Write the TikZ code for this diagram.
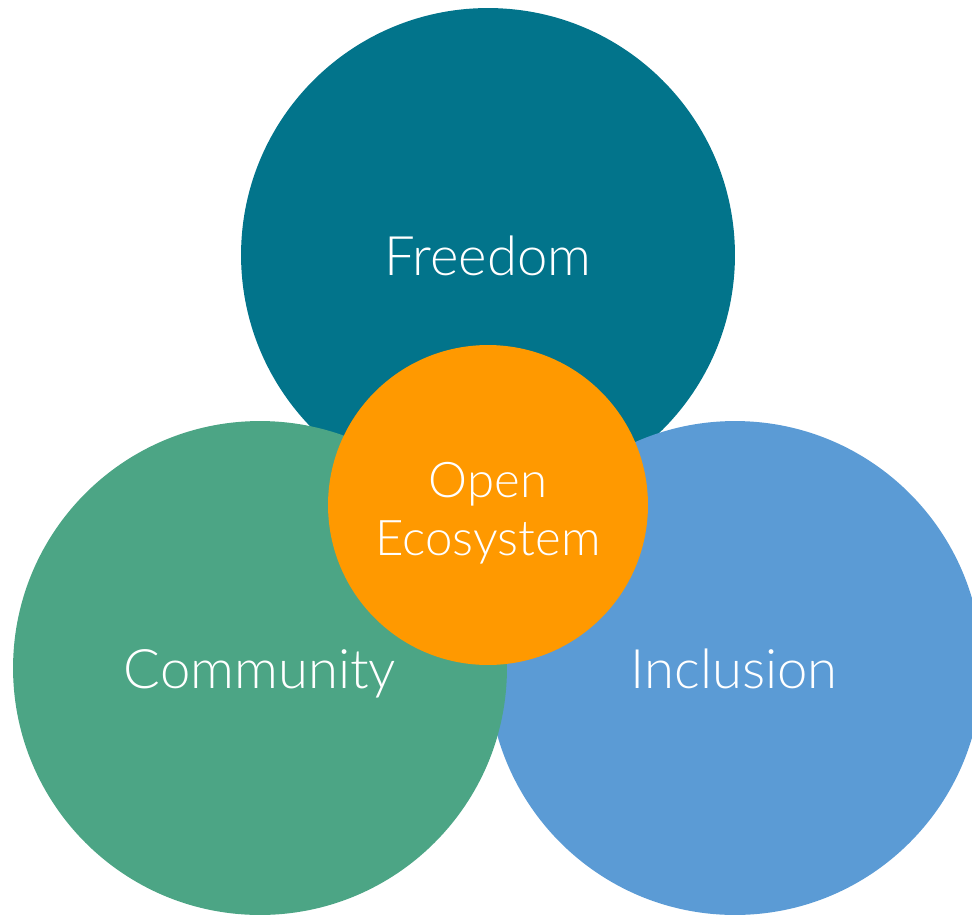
\documentclass[tikz,border=0pt]{standalone}
\usepackage{fontspec}
\IfFontExistsTF{Lato Light}{\setmainfont{Lato Light}}{\setmainfont{Lato}}
\usepackage{tikz}
\usetikzlibrary{positioning}
\definecolor{freecol}{HTML}{02748B}
\definecolor{commcol}{HTML}{4CA585}
\definecolor{inclcol}{HTML}{5B9BD5}
\definecolor{opencol}{HTML}{FF9900}

\begin{document}
\begin{tikzpicture}[x=0.02cm,y=-0.02cm,
   big/.style={circle,minimum size=9.88cm,inner sep=0pt},
   small/.style={circle,minimum size=6.4cm,inner sep=0pt},
   lbl/.style={text=white,font=\fontsize{31}{37}\selectfont,anchor=base},
   olbl/.style={text=white,font=\fontsize{28}{34}\selectfont,anchor=base}]
\useasboundingbox (0,0) rectangle (972,916);
\node[big,fill=freecol] (free) at (488,255) {};
\node[big,fill=inclcol] (incl) at (735,668) {};
\node[big,fill=commcol] (comm) at (260,668) {};
\node[small,fill=opencol] (open) at (488,505) {};
\node[lbl] (freet) at (488,275) {Freedom};
\node[lbl] (commt) at (260,688) {Community};
\node[lbl] (inclt) at (734,688) {Inclusion};
\node[olbl] (opent) at (488,497) {Open};
\node[olbl] (ecot) at (488,555) {Ecosystem};
\end{tikzpicture}
\end{document}
